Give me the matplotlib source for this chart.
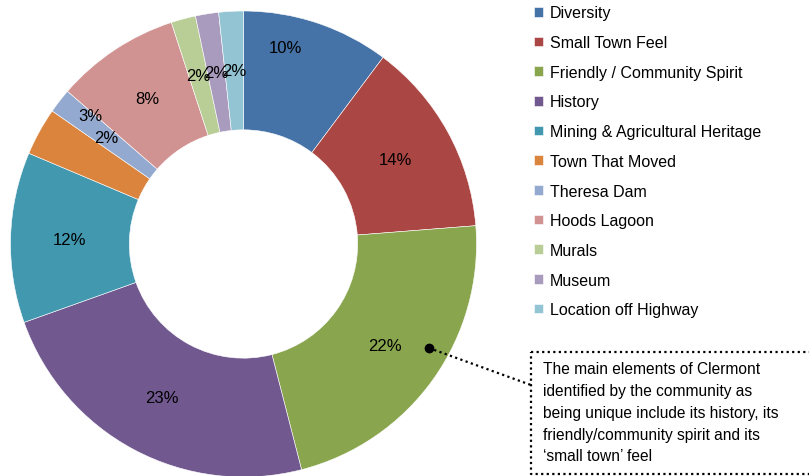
import matplotlib.pyplot as plt
import numpy as np

plt.rcParams['font.family'] = ['Liberation Sans', 'DejaVu Sans']

categories = ['Diversity', 'Small Town Feel', 'Friendly / Community Spirit', 'History',
              'Mining & Agricultural Heritage', 'Town That Moved', 'Theresa Dam',
              'Hoods Lagoon', 'Murals', 'Museum', 'Location off Highway']
values = [10.2, 13.5, 22.2, 23.5, 11.8, 3.3, 1.7, 8.6, 1.7, 1.6, 1.7]
pct_labels = ['10%', '14%', '22%', '23%', '12%', '3%', '2%', '8%', '2%', '2%', '2%']
colors = ['#4572A7', '#AA4643', '#89A54E', '#71588F', '#4198AF', '#DB843D',
          '#93A9CF', '#D19392', '#B9CD96', '#A99BBD', '#92C4D4']
note = ("The main elements of Clermont\nidentified by the community as\n"
        "being unique include its history, its\nfriendly/community spirit and its\n"
        "\u2018small town\u2019 feel")

W, H = 809, 477
fig = plt.figure(figsize=(W / 100, H / 100), dpi=100)
ax = fig.add_axes([0, 0, 1, 1])

cx, cy, R = 243.5, H - 245, 233
wedges, _ = ax.pie(values, colors=colors, startangle=90, counterclock=False,
                   center=(cx, cy), radius=R, frame=True,
                   wedgeprops=dict(width=R * 0.51, edgecolor='white', linewidth=0.4))
ax.set_xlim(0, W)
ax.set_ylim(0, H)
ax.set_aspect('equal')
ax.axis('off')

# label placement (Excel-like), a couple of labels nudged
override = {0: (78.0, 0.86), 5: (140.0, 0.86)}
for i, w in enumerate(wedges):
    ang = (w.theta1 + w.theta2) / 2
    r = 0.747
    if i in override:
        ang, r = override[i]
    a = np.deg2rad(ang)
    ax.text(cx + r * R * np.cos(a), cy + r * R * np.sin(a), pct_labels[i],
            ha='center', va='center', fontsize=12, color='black')

ax.legend(wedges, categories, loc='upper left', bbox_to_anchor=(528 / W, 1 - 0 / H),
          frameon=False, fontsize=11.5, handlelength=0.55, handleheight=0.55,
          handletextpad=0.4, labelspacing=0.92, borderaxespad=0)

# callout
ax.plot([429], [H - 349], 'o', color='black', markersize=6)
ax.plot([429, 531], [H - 349, H - 386], color='black', linestyle=(0, (1, 1.5)), linewidth=1.6)
ax.plot([531, 812, 812, 531, 531], [H - 353, H - 353, H - 475, H - 475, H - 353],
        color='black', linestyle=(0, (1, 1.5)), linewidth=1.6, clip_on=False)
ax.text(543, H - 362, note, ha='left', va='top', fontsize=11.2, linespacing=1.57)

fig.savefig('out.png', dpi=100)
